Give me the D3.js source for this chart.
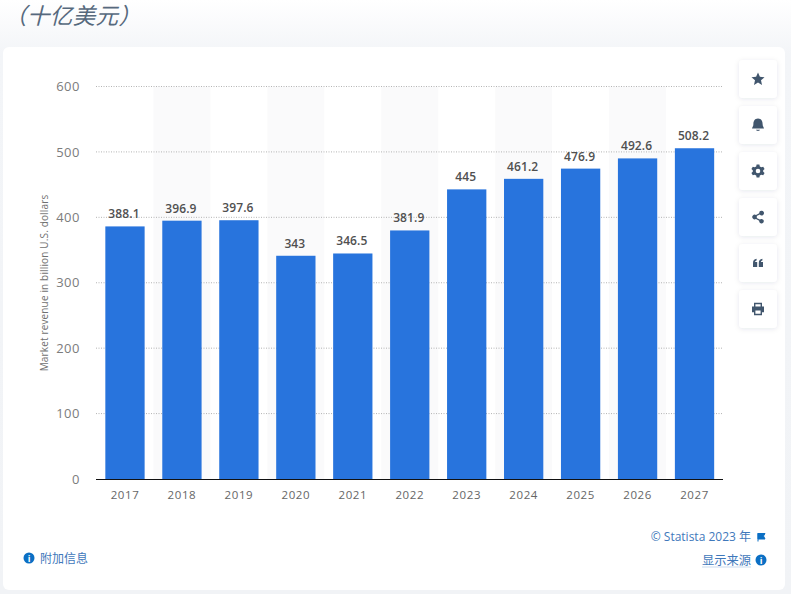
<!DOCTYPE html>
<html>
<head>
<meta charset="utf-8">
<script src="https://cdnjs.cloudflare.com/ajax/libs/d3/7.8.5/d3.min.js"></script>
<style>
  html, body { margin: 0; padding: 0; background: #fff; overflow: hidden; }
  text { font-family: "Open Sans", "Noto Sans CJK SC", sans-serif; }
</style>
</head>
<body>
<svg id="chart" width="791" height="594"></svg>
<script>
var years = ["2017", "2018", "2019", "2020", "2021", "2022", "2023", "2024", "2025", "2026", "2027"];
var revenue = [388.1, 396.9, 397.6, 343, 346.5, 381.9, 445, 461.2, 476.9, 492.6, 508.2];
var yTicks = [0, 100, 200, 300, 400, 500, 600];
var yLabel = "Market revenue in billion U.S. dollars";

var svg = d3.select("#chart");

// page background and card
var defs = svg.append("defs");
var grad = defs.append("linearGradient").attr("id", "pageBg").attr("x1", 0).attr("x2", 0).attr("y1", 0).attr("y2", 1);
grad.append("stop").attr("offset", "0").attr("stop-color", "#ffffff");
grad.append("stop").attr("offset", "0.09").attr("stop-color", "#f3f5f8");
grad.append("stop").attr("offset", "1").attr("stop-color", "#f1f3f6");
var shadow = defs.append("filter").attr("id", "btnShadow").attr("x", "-30%").attr("y", "-30%").attr("width", "160%").attr("height", "160%");
shadow.append("feDropShadow").attr("dx", 0).attr("dy", 1).attr("stdDeviation", 2.5).attr("flood-color", "#0f2a4a").attr("flood-opacity", 0.1);

svg.append("rect").attr("width", 791).attr("height", 594).attr("fill", "url(#pageBg)");
svg.append("rect").attr("x", 3).attr("y", 47).attr("width", 782).attr("height", 543).attr("rx", 6).attr("fill", "#fff");

// title fragment cut off at the top
svg.append("text").attr("x", 4).attr("y", 24)
  .attr("font-size", 22.5).attr("font-style", "italic").attr("fill", "#56697d").attr("letter-spacing", 0.4)
  .text("（十亿美元）");

var x = d3.scaleBand().domain(years).range([96.5, 723]).paddingInner(0.31).paddingOuter(0.155);
var y = d3.scaleLinear().domain([0, 600]).range([479, 86.5]);
// bars sit about a pixel below the gridline scale in the picture
var barY = d3.scaleLinear().domain([0, 600]).range([479, 88.5]);
var step = x.step();

// alternating column shading
svg.append("g").selectAll("rect")
  .data(years.filter(function(d, i) { return i % 2 == 1; }))
  .enter().append("rect")
  .attr("x", function(d) { return x(d) - (step - x.bandwidth()) / 2; })
  .attr("y", y(600))
  .attr("width", step)
  .attr("height", y(0) - y(600))
  .attr("fill", "#fafafb");

// gridlines
svg.append("g").selectAll("line")
  .data(yTicks.filter(function(d) { return d > 0; }))
  .enter().append("line")
  .attr("x1", 96).attr("x2", 723)
  .attr("y1", function(d) { return y(d); })
  .attr("y2", function(d) { return y(d); })
  .attr("stroke", "#b4b4b4").attr("stroke-width", 1).attr("stroke-dasharray", "1 1.5");

// y axis labels
var yAxis = svg.append("g").attr("transform", "translate(80,0)")
  .call(d3.axisLeft(y).tickValues(yTicks).tickSize(0).tickPadding(0));
yAxis.select(".domain").remove();
yAxis.selectAll("text").attr("font-size", 13).attr("fill", "#7c7c7c").attr("letter-spacing", 0.5)
  .style("font-family", '"Open Sans", sans-serif');

// y axis title
svg.append("text")
  .attr("transform", "translate(47.5,283) rotate(-90)")
  .attr("text-anchor", "middle")
  .attr("font-size", 10).attr("fill", "#707070").attr("letter-spacing", 0.15)
  .text(yLabel);

// bars
svg.append("g").selectAll("rect")
  .data(revenue)
  .enter().append("rect")
  .attr("x", function(d, i) { return x(years[i]); })
  .attr("y", function(d) { return barY(d); })
  .attr("width", x.bandwidth())
  .attr("height", function(d) { return barY(0) - barY(d); })
  .attr("fill", "#2874dd");

// value labels
svg.append("g").selectAll("text")
  .data(revenue)
  .enter().append("text")
  .attr("x", function(d, i) { return x(years[i]) + x.bandwidth() / 2 - 1; })
  .attr("y", function(d) { return barY(d) - 8; })
  .attr("text-anchor", "middle")
  .attr("font-size", 12).attr("font-weight", 600).attr("fill", "#505050").attr("letter-spacing", 0.1)
  .text(function(d) { return d; });

// x axis
var xAxis = svg.append("g").attr("transform", "translate(0,479)")
  .call(d3.axisBottom(x).tickSize(0).tickPadding(12));
xAxis.select(".domain").attr("d", "M96,0.5H723").attr("stroke", "#111").attr("stroke-width", 1.2);
xAxis.selectAll("text").attr("font-size", 11.5).attr("fill", "#666").attr("letter-spacing", 0.6)
  .style("font-family", '"Open Sans", sans-serif');

// side buttons
var iconColor = "#41566d";
var icons = [
  "M0,-6.5L1.9,-2.2L6.5,-1.8L3,1.3L4,5.9L0,3.5L-4,5.9L-3,1.3L-6.5,-1.8L-1.9,-2.2Z",
  "M0,-6.5C3.5,-6.5 4.6,-3.5 4.6,-1C4.6,1.5 6,2.6 6,3.6L-6,3.6C-6,2.6 -4.6,1.5 -4.6,-1C-4.6,-3.5 -3.5,-6.5 0,-6.5ZM-2,4.8L2,4.8C2,6.3 -2,6.3 -2,4.8Z",
  "M-1.4,-6.4L1.4,-6.4L1.8,-4.6L3.4,-3.7L5.2,-4.3L6.6,-1.9L5.2,-0.7L5.2,0.7L6.6,1.9L5.2,4.3L3.4,3.7L1.8,4.6L1.4,6.4L-1.4,6.4L-1.8,4.6L-3.4,3.7L-5.2,4.3L-6.6,1.9L-5.2,0.7L-5.2,-0.7L-6.6,-1.9L-5.2,-4.3L-3.4,-3.7L-1.8,-4.6ZM0,-2.3A2.3,2.3 0 1 0 0,2.3A2.3,2.3 0 1 0 0,-2.3Z",
  "M3.7,-6.2A2.3,2.3 0 1 1 1.8,-2.6L-1.3,-0.9A2.3,2.3 0 0 1 -1.3,0.9L1.8,2.6A2.3,2.3 0 1 1 1.2,3.8L-2,2A2.4,2.4 0 1 1 -2,-2L1.2,-3.8A2.3,2.3 0 0 1 3.7,-6.2Z",
  "M-5,0C-5,-2.5 -3.8,-3.8 -1.4,-4.2L-1.4,-2.6C-2.4,-2.4 -2.9,-1.8 -2.9,-1L-0.8,-1L-0.8,4L-5,4ZM0.8,0C0.8,-2.5 2,-3.8 4.4,-4.2L4.4,-2.6C3.4,-2.4 2.9,-1.8 2.9,-1L5,-1L5,4L0.8,4Z",
  "M-4,-6.2L4,-6.2L4,-2.6L6,-2.6L6,3.2L4,3.2L4,6.2L-4,6.2L-4,3.2L-6,3.2L-6,-2.6L-4,-2.6ZM-2.6,-4.8L-2.6,-2.6L2.6,-2.6L2.6,-4.8ZM-2.6,1.4L-2.6,4.8L2.6,4.8L2.6,1.4Z"
];
var btnTop = [60, 106, 152, 198, 244, 290];
var btn = svg.append("g").selectAll("g")
  .data(icons)
  .enter().append("g")
  .attr("transform", function(d, i) { return "translate(758," + (btnTop[i] + 19) + ")"; });
btn.append("rect").attr("x", -19).attr("y", -19).attr("width", 38).attr("height", 38).attr("rx", 4)
  .attr("fill", "#fff").attr("filter", "url(#btnShadow)");
btn.append("path").attr("d", function(d) { return d; }).attr("fill", iconColor).attr("fill-rule", "evenodd");

// footer links
function infoIcon(cx, cy) {
  svg.append("circle").attr("cx", cx).attr("cy", cy).attr("r", 5.5).attr("fill", "#0b6fc4");
  svg.append("text").attr("x", cx).attr("y", cy + 3.5).attr("text-anchor", "middle")
    .attr("font-size", 9).attr("font-weight", 700).attr("fill", "#fff").text("i");
}
infoIcon(29, 558);
svg.append("text").attr("x", 40).attr("y", 563).attr("font-size", 12).attr("fill", "#3f78bb").text("附加信息");

svg.append("text").attr("x", 751).attr("y", 541).attr("text-anchor", "end")
  .attr("font-size", 12).attr("fill", "#3f78bb").text("© Statista 2023 年");
svg.append("path").attr("d", "M758,533V541.5M758,533.5H765L763.5,536L765,539H758Z").attr("fill", "#0b6fc4").attr("stroke", "#0b6fc4").attr("stroke-width", 1);

svg.append("text").attr("x", 751).attr("y", 565).attr("text-anchor", "end")
  .attr("font-size", 12.25).attr("fill", "#3f78bb").text("显示来源");
svg.append("line").attr("x1", 702).attr("x2", 751).attr("y1", 567).attr("y2", 567).attr("stroke", "#a9c4e2").attr("stroke-width", 0.6);
infoIcon(761, 560);
</script>
</body>
</html>
